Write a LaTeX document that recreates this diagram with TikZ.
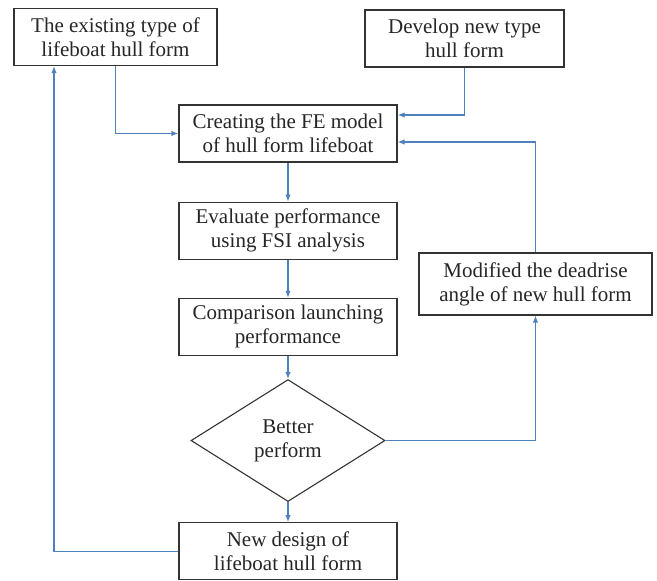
\documentclass[tikz,border=0pt]{standalone}
\usepackage{fontspec}
\setmainfont{Liberation Serif}
\usetikzlibrary{positioning,shapes.geometric,arrows.meta}
\definecolor{flowblue}{RGB}{79,129,189}

\begin{document}
\begin{tikzpicture}[x=1pt,y=-1pt]
\tikzstyle{proc}=[rectangle, draw=black!80, line width=1.2pt, align=center, text=black!85, font=\fontsize{21}{24}\selectfont, minimum height=57pt, inner sep=2pt]
\tikzstyle{decide}=[diamond, draw=black!80, line width=1.1pt, align=center, text=black!85, font=\fontsize{21}{24}\selectfont, minimum width=194pt, minimum height=122pt, inner sep=0pt]
\tikzstyle{connect}=[-{Latex[length=7pt,width=5.5pt]}, draw=flowblue, line width=1.3pt]
\useasboundingbox (0,0) rectangle (657,581);
\node[proc, minimum width=203pt] (exist) at (115.5,37) {The existing type of\\lifeboat hull form};
\node[proc, minimum width=199pt] (develop) at (464.5,38.5) {Develop new type\\hull form};
\node[proc, minimum width=218pt] (fe) at (288,133.5) {Creating the FE model\\of hull form lifeboat};
\node[proc, minimum width=218pt] (fsi) [below=39pt of fe] {Evaluate performance\\using FSI analysis};
\node[proc, minimum width=218pt] (comp) [below=38pt of fsi] {Comparison launching\\performance};
\node[decide] (better) [below=23pt of comp] {Better\\perform};
\node[proc, minimum width=218pt] (newdes) [below=20pt of better] {New design of\\lifeboat hull form};
\node[proc, minimum width=233pt, minimum height=62pt] (modify) at (535.5,284) {Modified the deadrise\\angle of new hull form};
  \draw[connect] (exist.south) |- (fe.west);
  \draw[connect] (develop.south) |- ([yshift=18.5pt]fe.east);
  \draw[connect] (fe) -- (fsi);
  \draw[connect] (fsi) -- (comp);
  \draw[connect] (comp) -- (better);
  \draw[connect] (better) -- (newdes);
  \draw[connect] (better.east) -| (modify.south);
  \draw[connect] (modify.north) |- ([yshift=-8.5pt]fe.east);
  \draw[connect] (newdes.west) -| ([xshift=-61.5pt]exist.south);
\end{tikzpicture}
\end{document}
